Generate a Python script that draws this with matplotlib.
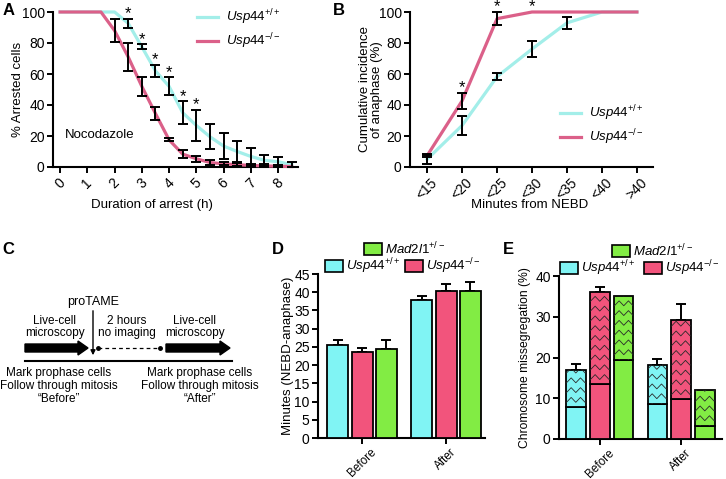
import numpy as np
import matplotlib
matplotlib.use('Agg')
import matplotlib.pyplot as plt
from matplotlib.patches import Rectangle, FancyArrow
from matplotlib.lines import Line2D

plt.rcParams['font.family'] = ['Liberation Sans', 'DejaVu Sans']
plt.rcParams['mathtext.fontset'] = 'custom'
plt.rcParams['mathtext.rm'] = 'Liberation Sans'
plt.rcParams['mathtext.it'] = 'Liberation Sans:italic'
plt.rcParams['mathtext.bf'] = 'Liberation Sans:bold'
plt.rcParams['axes.linewidth'] = 1.5

# ---------------- data ----------------
# Panel A
a_hours = [0, 0.5, 1, 1.5, 2, 2.5, 3, 3.5, 4, 4.5, 5, 5.5, 6, 6.5, 7, 7.5, 8, 8.5]
a_wt = [100, 100, 100, 100, 100, 92.7, 77.5, 62, 52, 35, 26.8, 19.5, 13.5, 10, 6.8, 4.3, 3.4, 1.5]
a_wt_err = [0, 0, 0, 0, 0, 2.8, 1.6, 4, 5.8, 7.5, 10, 8, 8.3, 6.7, 5.3, 3.4, 3.3, 1.6]
a_ko = [100, 100, 100, 100, 88, 71, 52, 34.5, 17.5, 8.3, 5.3, 2.9, 2, 1.5, 1, 0.7, 0.5, 0.3]
a_ko_err = [0, 0, 0, 0, 7.5, 9.3, 5.9, 4.3, 0.9, 2.5, 1.9, 1.4, 1, 1, 1, 1, 0.5, 0]
a_star_x = [2.5, 3, 3.5, 4, 4.5, 5]
a_xticks = [0, 1, 2, 3, 4, 5, 6, 7, 8]

# Panel B
b_cats = ['<15', '<20', '<25', '<30', '<35', '<40', '>40']
b_wt = [5, 26.8, 58.3, 76.1, 93, 100, 100]
b_wt_err = [3, 5.9, 2.4, 5.2, 3.8, 0, 0]
b_ko = [7.3, 42.7, 95.7, 100, 100, 100, 100]
b_ko_err = [0.9, 5, 4.3, 0, 0, 0, 0]
b_star_idx = [1, 2, 3]

# Panel D
groups = ['Before', 'After']
d_wt = [25.6, 37.8]
d_wt_err = [1.2, 1.3]
d_ko = [23.7, 40.2]
d_ko_err = [1.0, 2.0]
d_mad = [24.4, 40.4]
d_mad_err = [2.4, 2.4]

# Panel E (total, solid lower part)
e_wt_total = [17.0, 18.1]
e_wt_solid = [7.8, 8.7]
e_wt_err = [1.5, 1.6]
e_ko_total = [36.1, 29.3]
e_ko_solid = [13.4, 9.7]
e_ko_err = [1.2, 3.9]
e_mad_total = [35.0, 12.0]
e_mad_solid = [19.5, 3.3]
e_mad_err = [0, 0]

# colours
LINE_WT = '#a3eee9'
LINE_KO = '#db6089'
BAR_WT = '#80f4f4'
BAR_KO = '#f2547c'
BAR_MAD = '#82ec44'

W, H = 726, 479
fig = plt.figure(figsize=(W / 100, H / 100), dpi=100)

def px_axes(l, t, r, b):
    return fig.add_axes([l / W, 1 - b / H, (r - l) / W, (b - t) / H])

lab_wt = r'$\mathit{Usp44}^{\mathit{+/+}}$'
lab_ko = r'$\mathit{Usp44}^{\mathit{-/-}}$'
lab_mad = r'$\mathit{Mad2l1}^{\mathit{+/-}}$'

FS = 9.5
TFS = 10

def style(ax):
    for s in ['top', 'right']:
        ax.spines[s].set_visible(False)
    ax.tick_params(direction='out', length=4, width=1.4, labelsize=TFS, pad=2)

def draw_err(ax, x, y, e, **kw):
    x = np.asarray(x, float); y = np.asarray(y, float); e = np.asarray(e, float)
    m = e > 0
    ax.errorbar(x[m], y[m], yerr=e[m], fmt='none', ecolor='black', elinewidth=1.4,
                capsize=3.5, capthick=1.4, zorder=5, clip_on=False, **kw)

def star(ax, x, y):
    ax.text(x, y, '*', ha='center', va='baseline', fontsize=12, clip_on=False)

# overlay for diagram/labels
ov = fig.add_axes([0, 0, 1, 1])
ov.set_xlim(0, W); ov.set_ylim(H, 0); ov.axis('off')

# ---------------- Panel A ----------------
axA = px_axes(53, 12, 298, 167)
style(axA)
axA.plot(a_hours, a_wt, color=LINE_WT, lw=2.3, clip_on=False, zorder=3, label=lab_wt)
axA.plot(a_hours, a_ko, color=LINE_KO, lw=2.3, clip_on=False, zorder=3, label=lab_ko)
draw_err(axA, a_hours, a_wt, a_wt_err)
draw_err(axA, a_hours, a_ko, a_ko_err)
for sx in a_star_x:
    i = a_hours.index(sx)
    star(axA, sx, a_wt[i] + a_wt_err[i] + 0.3)
axA.set_xlim(-0.26, 8.73)
axA.set_ylim(0, 100)
axA.set_xticks(a_xticks)
axA.set_xticklabels([str(v) for v in a_xticks], rotation=45, ha='center')
axA.set_yticks([0, 20, 40, 60, 80, 100])
axA.set_ylabel('% Arrested cells', fontsize=FS)
axA.set_xlabel('Duration of arrest (h)', fontsize=FS)
axA.yaxis.set_label_coords(-0.12, 0.5)
axA.xaxis.set_label_coords(0.404, -0.205)
axA.text(0.18, 20.6, 'Nocodazole', ha='left', va='center', fontsize=FS)
axA.legend(loc='upper left', bbox_to_anchor=(0.588, 1.03), frameon=False, fontsize=9.5,
           handlelength=1.6, borderpad=0, borderaxespad=0, labelspacing=0.35, handletextpad=0.6)

# ---------------- Panel B ----------------
axB = px_axes(410, 12, 653, 167)
style(axB)
bx = np.arange(len(b_cats))
axB.plot(bx, b_wt, color=LINE_WT, lw=2.3, clip_on=False, zorder=3, label=lab_wt)
axB.plot(bx, b_ko, color=LINE_KO, lw=2.3, clip_on=False, zorder=3, label=lab_ko)
draw_err(axB, bx, b_wt, b_wt_err)
draw_err(axB, bx, b_ko, b_ko_err)
for i in b_star_idx:
    star(axB, bx[i], b_ko[i] + b_ko_err[i] + 0.3)
axB.set_xlim(-0.49, 6.46)
axB.set_ylim(0, 100)
axB.set_xticks(bx)
axB.set_xticklabels(b_cats, rotation=45, ha='center')
axB.set_yticks([0, 20, 40, 60, 80, 100])
axB.set_ylabel('Cumulative incidence\nof anaphase (%)', fontsize=FS, linespacing=1.0)
axB.set_xlabel('Minutes from NEBD', fontsize=FS)
axB.yaxis.set_label_coords(-0.11, 0.5)
axB.xaxis.set_label_coords(0.494, -0.205)
axB.legend(loc='upper left', bbox_to_anchor=(0.617, 0.41), frameon=False, fontsize=9.5,
           handlelength=1.6, borderpad=0, borderaxespad=0, labelspacing=0.35, handletextpad=0.6)

# ---------------- Panel C (diagram) ----------------
cfs = 8.5
ov.text(93, 302, 'proTAME', ha='center', va='center', fontsize=9)
ov.annotate('', xy=(93, 358), xytext=(93, 308),
            arrowprops=dict(arrowstyle='-|>', color='black', lw=1.0, mutation_scale=7))
for cx, txt in [(55, 'Live-cell\nmicroscopy'), (127, '2 hours\nno imaging'), (195, 'Live-cell\nmicroscopy')]:
    ov.text(cx, 327, txt, ha='center', va='center', fontsize=cfs, linespacing=1.05)
ov.add_patch(FancyArrow(25, 348, 63, 0, width=8, head_width=14, head_length=10,
                        length_includes_head=True, color='black'))
ov.add_patch(FancyArrow(166, 348, 64, 0, width=8, head_width=14, head_length=10,
                        length_includes_head=True, color='black'))
ov.plot([98, 160], [348, 348], color='black', lw=0.9, ls=(0, (3, 2.5)))
ov.plot([98, 160], [348, 348], 'o', color='black', ms=2.5)
ov.plot([25, 232], [361, 361], color='black', lw=1.5)
for cx, last in [(59, '\u201cBefore\u201d'), (200, '\u201cAfter\u201d')]:
    ov.text(cx, 373, 'Mark prophase cells', ha='center', va='center', fontsize=cfs)
    ov.text(cx, 386, 'Follow through mitosis', ha='center', va='center', fontsize=cfs)
    ov.text(cx, 399, last, ha='center', va='center', fontsize=cfs)

# ---------------- Panel D ----------------
axD = px_axes(318, 274, 485, 438)
style(axD)
gx = np.arange(len(groups))
dw, doff = 0.25, 0.286
for off, vals, errs, col in [(-doff, d_wt, d_wt_err, BAR_WT), (0, d_ko, d_ko_err, BAR_KO),
                             (doff, d_mad, d_mad_err, BAR_MAD)]:
    axD.bar(gx + off, vals, width=dw, color=col, edgecolor='black', linewidth=1.3, zorder=3)
    axD.errorbar(gx + off, vals, yerr=[np.zeros(len(errs)), errs], fmt='none', ecolor='black',
                 elinewidth=1.4, capsize=3.5, capthick=1.4, zorder=2)
axD.set_xlim(-0.524, 1.464)
axD.set_ylim(0, 45)
axD.set_yticks(np.arange(0, 46, 5))
axD.set_xticks(gx)
axD.set_xticklabels(groups, rotation=45, ha='center', fontsize=8.5)
axD.set_ylabel('Minutes (NEBD-anaphase)', fontsize=FS)
axD.yaxis.set_label_coords(-0.145, 0.5)

# ---------------- Panel E ----------------
axE = px_axes(559, 276, 722, 439)
style(axE)
ew, eoff = 0.235, 0.296

def zigzag(ax, rect, period=0.115, spacing=2.4, amp=1.2):
    x0, w = rect.get_x(), rect.get_width()
    y0, h = rect.get_y(), rect.get_height()
    n = int(np.ceil(w / (period / 2))) + 2
    xs = x0 + np.arange(n) * period / 2
    offs = np.where(np.arange(n) % 2 == 0, 0.0, amp)
    for yy in np.arange(y0 - amp, y0 + h + spacing, spacing):
        ln = Line2D(xs, yy + offs, color='#2a2a2a', lw=0.6, zorder=4)
        ax.add_line(ln)
        ln.set_clip_path(rect)

for off, tot, sol, errs, col in [(-eoff, e_wt_total, e_wt_solid, e_wt_err, BAR_WT),
                                 (0, e_ko_total, e_ko_solid, e_ko_err, BAR_KO),
                                 (eoff, e_mad_total, e_mad_solid, e_mad_err, BAR_MAD)]:
    tot = np.array(tot); sol = np.array(sol); errs = np.array(errs)
    axE.bar(gx + off, sol, width=ew, color=col, edgecolor='black', linewidth=1.3, zorder=3)
    bars = axE.bar(gx + off, tot - sol, bottom=sol, width=ew, color=col, edgecolor='black',
                   linewidth=1.3, zorder=3)
    for r in bars:
        zigzag(axE, r)
    m = errs > 0
    axE.errorbar((gx + off)[m], tot[m], yerr=[np.zeros(m.sum()), errs[m]], fmt='none',
                 ecolor='black', elinewidth=1.4, capsize=3.5, capthick=1.4, zorder=2)
axE.set_xlim(-0.506, 1.506)
axE.set_ylim(0, 40)
axE.set_yticks([0, 10, 20, 30, 40])
axE.set_xticks(gx)
axE.set_xticklabels(groups, rotation=45, ha='center', fontsize=8.5)
axE.set_ylabel('Chromosome missegregation (%)', fontsize=8.7)
axE.yaxis.set_label_coords(-0.17, 0.5)

# legends for D and E (manual boxes)
def leg_item(x, y, col, label):
    ov.add_patch(Rectangle((x, y - 6), 18, 12, facecolor=col, edgecolor='black', lw=1.2))
    ov.text(x + 21, y, label, ha='left', va='center', fontsize=9.5)

leg_item(364, 249, BAR_MAD, lab_mad)
leg_item(325, 266, BAR_WT, lab_wt)
leg_item(405, 266, BAR_KO, lab_ko)
leg_item(612, 251, BAR_MAD, lab_mad)
leg_item(560, 268, BAR_WT, lab_wt)
leg_item(644, 268, BAR_KO, lab_ko)

# panel letters
for (x, y, L) in [(3, 3, 'A'), (333, 3, 'B'), (2, 242, 'C'), (272, 242, 'D'), (503, 242, 'E')]:
    ov.text(x, y, L, ha='left', va='top', fontsize=12, fontweight='bold')

fig.savefig('out.png', dpi=100)
